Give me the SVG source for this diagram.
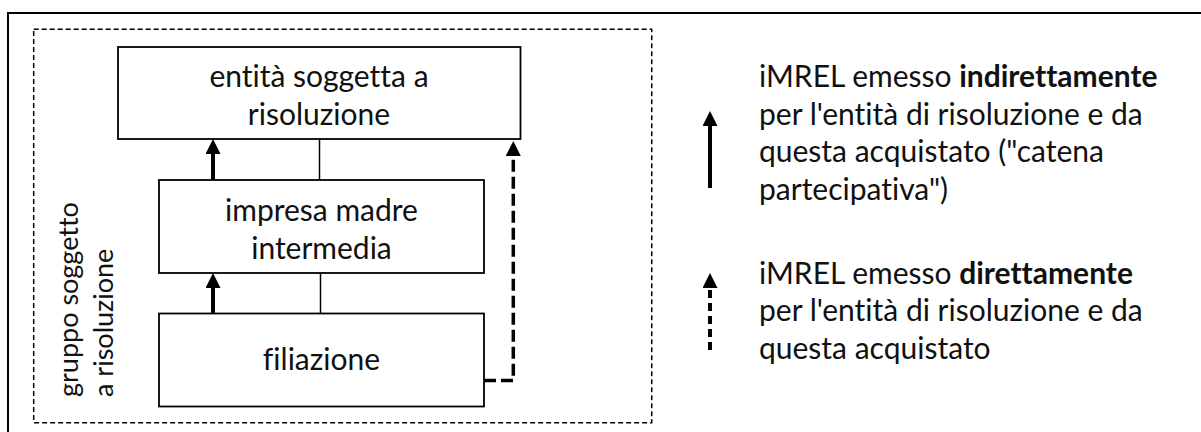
<svg xmlns="http://www.w3.org/2000/svg" width="1201" height="432" viewBox="0 0 1201 432">
  <defs>
    <marker id="head" viewBox="0 0 15 15" markerWidth="15" markerHeight="15" refX="0" refY="7.5" orient="auto" markerUnits="userSpaceOnUse">
      <path d="M0,0 L15,7.5 L0,15 z" fill="#000"/>
    </marker>
  </defs>
  <style>
    .box { fill: #fff; stroke: #000; stroke-width: 1.8; }
    .lbl { font-family: Lato, "Open Sans", sans-serif; font-size: 30px; fill: #111; font-variant-ligatures: none; }
    .rot { font-size: 27px; }
    .mid { text-anchor: middle; }
    .thin { stroke: #000; stroke-width: 1.5; fill: none; }
    .solid { stroke: #000; stroke-width: 4; fill: none; marker-end: url(#head); }
    .dash { stroke: #000; stroke-width: 3.5; fill: none; stroke-dasharray: 12 5; marker-end: url(#head); }
    .b { font-weight: bold; }
  </style>
  <rect x="0" y="0" width="1201" height="432" fill="#fff"/>
  <rect id="frame" x="8" y="13" width="1200" height="430" fill="none" stroke="#000" stroke-width="2"/>
  <g id="group">
    <rect x="33.7" y="29.3" width="618" height="393.4" fill="none" stroke="#000" stroke-width="1.5" stroke-dasharray="5 3"/>
    <text class="lbl rot" transform="translate(78,397) rotate(-90)">gruppo soggetto</text>
    <text class="lbl rot" transform="translate(113,397) rotate(-90)">a risoluzione</text>
  </g>
  <g id="connectors">
    <line class="thin" x1="319.5" y1="139" x2="319.5" y2="180"/>
    <line class="thin" x1="320.5" y1="273" x2="320.5" y2="313"/>
    <line class="solid" x1="213" y1="180" x2="213" y2="154"/>
    <line class="solid" x1="213" y1="313" x2="213" y2="288"/>
    <path class="dash" d="M484,380.5 H513.3 V156"/>
  </g>
  <g id="n-entita">
    <rect class="box" x="118" y="47" width="402.5" height="92"/>
    <text class="lbl mid" x="319" y="87">entità soggetta a</text>
    <text class="lbl mid" x="319" y="125">risoluzione</text>
  </g>
  <g id="n-impresa">
    <rect class="box" x="159" y="180" width="325" height="93"/>
    <text class="lbl mid" x="321.5" y="220.5">impresa madre</text>
    <text class="lbl mid" x="321.5" y="258.5">intermedia</text>
  </g>
  <g id="n-filiazione">
    <rect class="box" x="159" y="313.5" width="325" height="93"/>
    <text class="lbl mid" x="321.5" y="370">filiazione</text>
  </g>
  <g id="legend">
    <line class="solid" x1="710" y1="188" x2="710" y2="126"/>
    <line x1="710" y1="350" x2="710" y2="288" stroke="#000" stroke-width="4" stroke-dasharray="8 5" marker-end="url(#head)"/>
    <text class="lbl" x="759" y="87">iMREL emesso <tspan class="b">indirettamente</tspan></text>
    <text class="lbl" x="759" y="125">per l'entità di risoluzione e da</text>
    <text class="lbl" x="759" y="162">questa acquistato ("catena</text>
    <text class="lbl" x="759" y="200">partecipativa")</text>
    <text class="lbl" x="759" y="284">iMREL emesso <tspan class="b">direttamente</tspan></text>
    <text class="lbl" x="759" y="321">per l'entità di risoluzione e da</text>
    <text class="lbl" x="759" y="359">questa acquistato</text>
  </g>
</svg>
